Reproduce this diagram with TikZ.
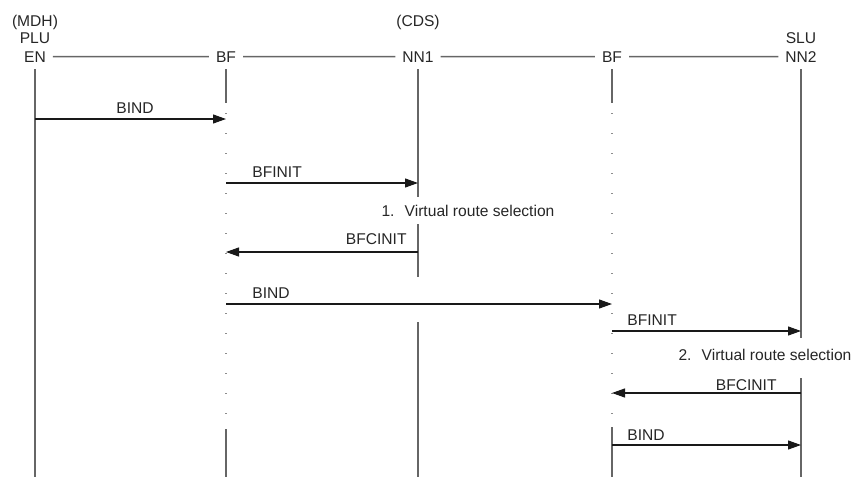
\documentclass[tikz,border=0pt]{standalone}
\usepackage{fontspec}
\setmainfont{Liberation Sans}
\usetikzlibrary{arrows.meta, positioning}

\begin{document}
\begin{tikzpicture}[
        x = 0.5pt, y = -0.5pt,
        >= {Triangle[length = 6.5pt, width = 4.5pt]},
        every node/.style = {font = \fontsize{7.8}{9}\selectfont, text = black!85},
        msg text/.style = {inner sep = 0pt},
        lifeline/.style = {draw = black!60, line width = 0.7pt},
        dotline/.style = {draw = black!45, line width = 0.7pt, dash pattern = on 0.3pt off 9.7pt},
        message/.style = {->, draw = black!90, line width = 0.55pt}
    ]

    \useasboundingbox (0,0) rectangle (853,477);
    \coordinate (bottom) at (0,477);


    % parties
    \node[anchor = base] (en)  at (35,62)  {EN};
    \node[anchor = base] (bf1) at (226,62) {BF};
    \node[anchor = base] (nn1) at (418,62) {NN1};
    \node[anchor = base] (bf2) at (612,62) {BF};
    \node[anchor = base] (nn2) at (801,62) {NN2};

    \node[anchor = base] (plu) at (35,43)  {PLU};
    \node[anchor = base] (mdh) at (35,26)  {(MDH)};
    \node[anchor = base] (cds) at (418,26) {(CDS)};
    \node[anchor = base] (slu) at (801,43) {SLU};

    \draw[lifeline] (en) -- (bf1) -- (nn1) -- (bf2) -- (nn2);


    % lifelines
    \draw[lifeline] (en) -- (en |- bottom);

    \draw[lifeline] (bf1) -- (bf1 |- 0,103);
    \draw[dotline]  (bf1 |- 0,113) -- (bf1 |- 0,420);
    \draw[lifeline] (bf1 |- 0,429) -- (bf1 |- bottom);

    \draw[lifeline] (nn1) -- (nn1 |- 0,197);
    \draw[lifeline] (nn1 |- 0,224) -- (nn1 |- 0,277);
    \draw[lifeline] (nn1 |- 0,322) -- (nn1 |- bottom);

    \draw[lifeline] (bf2) -- (bf2 |- 0,103);
    \draw[dotline]  (bf2 |- 0,113) -- (bf2 |- 0,420);
    \draw[lifeline] (bf2 |- 0,427) -- (bf2 |- bottom);

    \draw[lifeline] (nn2) -- (nn2 |- 0,338);
    \draw[lifeline] (nn2 |- 0,378) -- (nn2 |- bottom);


    % messages
    \draw[message] (en |- 0,119)  -- (bf1 |- 0,119);
    \draw[message] (bf1 |- 0,183) -- (nn1 |- 0,183);
    \draw[message] (nn1 |- 0,252) -- (bf1 |- 0,252);
    \draw[message] (bf1 |- 0,304) -- (bf2 |- 0,304);
    \draw[message] (bf2 |- 0,331) -- (nn2 |- 0,331);
    \draw[message] (nn2 |- 0,393) -- (bf2 |- 0,393);
    \draw[message] (bf2 |- 0,445) -- (nn2 |- 0,445);

    \node[msg text, anchor = base]      (bind1)   at (135,113) {BIND};
    \node[msg text, anchor = base west] (bfinit1) at (252,177) {BFINIT};
    \node[msg text, anchor = base]      (vrs1)    at (468,216) {1.~ Virtual route selection};
    \node[msg text, anchor = base east] (bfc1)    at (407,244) {BFCINIT};
    \node[msg text, anchor = base west] (bind2)   at (252,298) {BIND};
    \node[msg text, anchor = base west] (bfinit2) at (627,325) {BFINIT};
    \node[msg text, anchor = base]      (vrs2)    at (765,360) {2.~ Virtual route selection};
    \node[msg text, anchor = base east] (bfc2)    at (777,390) {BFCINIT};
    \node[msg text, anchor = base west] (bind3)   at (627,440) {BIND};

\end{tikzpicture}
\end{document}
